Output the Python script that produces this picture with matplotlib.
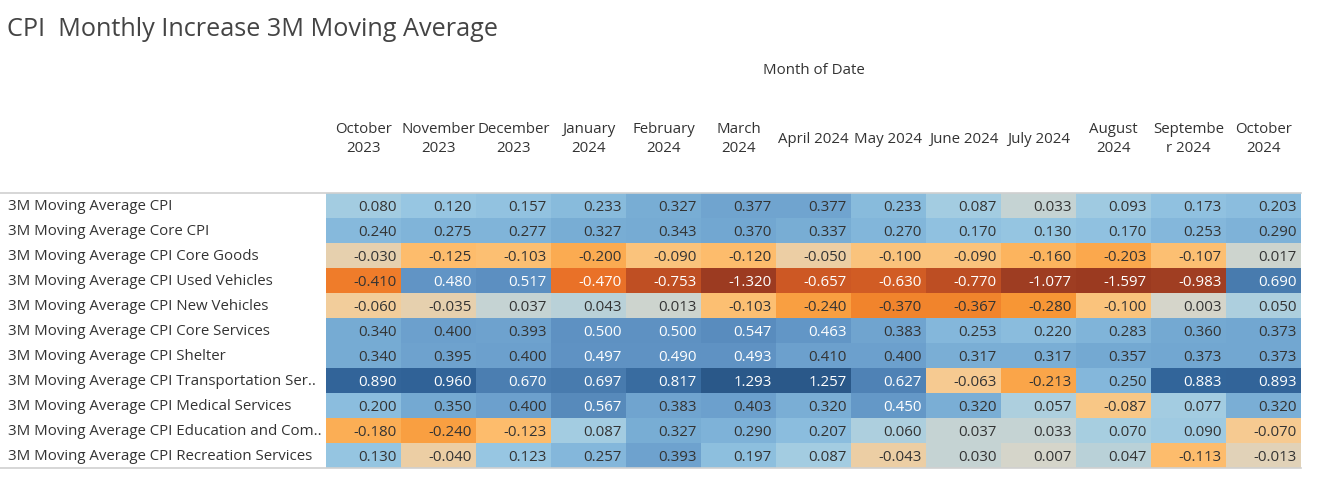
import matplotlib
matplotlib.use("Agg")
import matplotlib.pyplot as plt
import numpy as np
from matplotlib.colors import LinearSegmentedColormap, Normalize

plt.rcParams['font.family'] = ['Open Sans', 'DejaVu Sans']

title = "CPI  Monthly Increase 3M Moving Average"
axis_title = "Month of Date"

months = ["October\n2023", "November\n2023", "December\n2023", "January\n2024",
          "February\n2024", "March\n2024", "April 2024", "May 2024", "June 2024",
          "July 2024", "August\n2024", "Septembe\nr 2024", "October\n2024"]

rows = ["3M Moving Average CPI",
        "3M Moving Average Core CPI",
        "3M Moving Average CPI Core Goods",
        "3M Moving Average CPI Used Vehicles",
        "3M Moving Average CPI New Vehicles",
        "3M Moving Average CPI Core Services",
        "3M Moving Average CPI Shelter",
        "3M Moving Average CPI Transportation Ser..",
        "3M Moving Average CPI Medical Services",
        "3M Moving Average CPI Education and Com..",
        "3M Moving Average CPI Recreation Services"]

cpi            = [0.080, 0.120, 0.157, 0.233, 0.327, 0.377, 0.377, 0.233, 0.087, 0.033, 0.093, 0.173, 0.203]
core_cpi       = [0.240, 0.275, 0.277, 0.327, 0.343, 0.370, 0.337, 0.270, 0.170, 0.130, 0.170, 0.253, 0.290]
core_goods     = [-0.030, -0.125, -0.103, -0.200, -0.090, -0.120, -0.050, -0.100, -0.090, -0.160, -0.203, -0.107, 0.017]
used_vehicles  = [-0.410, 0.480, 0.517, -0.470, -0.753, -1.320, -0.657, -0.630, -0.770, -1.077, -1.597, -0.983, 0.690]
new_vehicles   = [-0.060, -0.035, 0.037, 0.043, 0.013, -0.103, -0.240, -0.370, -0.367, -0.280, -0.100, 0.003, 0.050]
core_services  = [0.340, 0.400, 0.393, 0.500, 0.500, 0.547, 0.463, 0.383, 0.253, 0.220, 0.283, 0.360, 0.373]
shelter        = [0.340, 0.395, 0.400, 0.497, 0.490, 0.493, 0.410, 0.400, 0.317, 0.317, 0.357, 0.373, 0.373]
transportation = [0.890, 0.960, 0.670, 0.697, 0.817, 1.293, 1.257, 0.627, -0.063, -0.213, 0.250, 0.883, 0.893]
medical        = [0.200, 0.350, 0.400, 0.567, 0.383, 0.403, 0.320, 0.450, 0.320, 0.057, -0.087, 0.077, 0.320]
education      = [-0.180, -0.240, -0.123, 0.087, 0.327, 0.290, 0.207, 0.060, 0.037, 0.033, 0.070, 0.090, -0.070]
recreation     = [0.130, -0.040, 0.123, 0.257, 0.393, 0.197, 0.087, -0.043, 0.030, 0.007, 0.047, -0.113, -0.013]

data = np.array([cpi, core_cpi, core_goods, used_vehicles, new_vehicles, core_services,
                 shelter, transportation, medical, education, recreation])

# diverging orange-blue colormap (Tableau-like)
vmin, vmax = -1.6, 1.6
nodes = [(-1.6, "#9b3a20"), (-1.0, "#9e3d22"), (-0.7, "#c75323"), (-0.45, "#ec7428"),
         (-0.3, "#f6922f"), (-0.2, "#fbaa4f"), (-0.11, "#fdbe6f"), (-0.06, "#f4cd98"),
         (-0.035, "#e7cfab"), (0.0, "#d9d5c8"), (0.03, "#c6d3d2"), (0.06, "#aacfe0"),
         (0.12, "#97c6e2"), (0.24, "#87badc"), (0.35, "#75aad3"), (0.48, "#6194c5"),
         (0.68, "#4a7db0"), (0.88, "#32659a"), (1.27, "#2a5889"), (1.6, "#2a5889")]
cmap = LinearSegmentedColormap.from_list(
    "ob", [((v - vmin) / (vmax - vmin), c) for v, c in nodes])
norm = Normalize(vmin, vmax)

W, H = 1326, 498
fig = plt.figure(figsize=(W / 100, H / 100), dpi=100)

x0, x1 = 326, 1301
y0, y1 = 193, 468
ax = fig.add_axes([x0 / W, 1 - y1 / H, (x1 - x0) / W, (y1 - y0) / H])
nr, nc = data.shape
ax.pcolormesh(np.arange(nc + 1), np.arange(nr + 1), data, cmap=cmap, norm=norm)
ax.set_xlim(0, nc)
ax.set_ylim(nr, 0)
ax.axis("off")

fs = 10.8
for i in range(nr):
    for j in range(nc):
        v = data[i, j]
        col = "white" if abs(v) >= 0.44 else "#333333"
        ax.text(j + 0.94, i + 0.56, f"{v:.3f}", ha="right", va="center",
                fontsize=fs, color=col)

# overlay axes in pixel coordinates for labels and lines
ov = fig.add_axes([0, 0, 1, 1])
ov.set_xlim(0, W)
ov.set_ylim(H, 0)
ov.axis("off")
ov.patch.set_alpha(0)

ov.text(7, 29.5, title, fontsize=18.2, color="#444444", va="center", ha="left")
ov.text(814, 70, axis_title, fontsize=fs, color="#333333", ha="center", va="center")

cw = (x1 - x0) / nc
for j, m in enumerate(months):
    ov.text(x0 + cw * (j + 0.5), 139, m, fontsize=fs, color="#333333",
            ha="center", va="center", linespacing=1.38)

rh = (y1 - y0) / nr
for i, r in enumerate(rows):
    ov.text(8, y0 + rh * (i + 0.5) + 1.2, r, fontsize=fs, color="#333333",
            ha="left", va="center")

ov.plot([0, x1], [y0, y0], color="#d0d0d0", lw=1.2)
ov.plot([0, x1], [y1, y1], color="#d0d0d0", lw=1.2)

fig.savefig("out.png", dpi=100)
